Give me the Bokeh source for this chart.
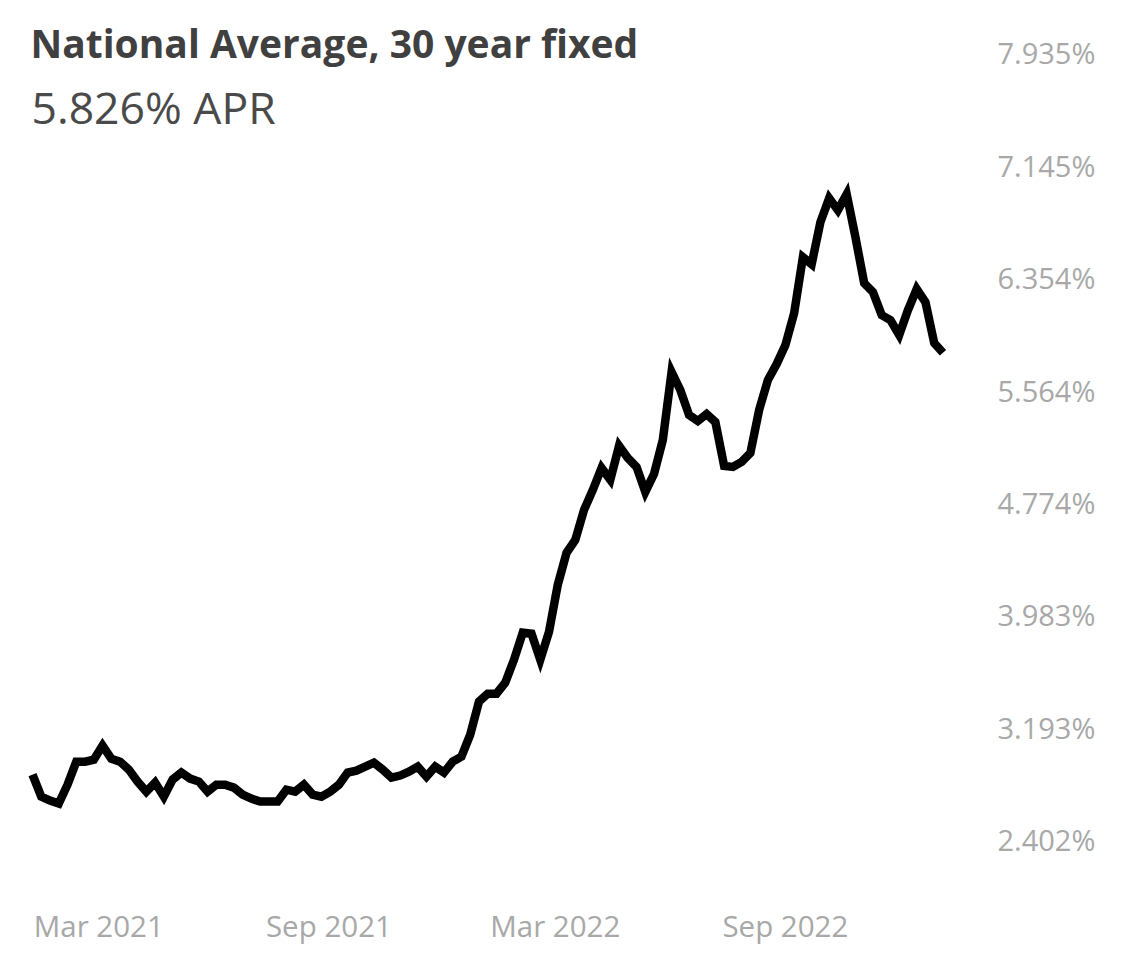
import pandas as pd
from bokeh.plotting import figure
from bokeh.models import (ColumnDataSource, Range1d, FixedTicker, MonthsTicker,
                          DatetimeTickFormatter, Label, CustomJSTickFormatter)
from bokeh.embed import file_html
from bokeh.resources import INLINE

# ---- data ----
start_date = "2021-01-07"
n_weeks = 105
rates = [2.859, 2.704, 2.676, 2.655, 2.788, 2.950, 2.950, 2.964, 3.063, 2.971,
         2.950, 2.894, 2.810, 2.739, 2.803, 2.704, 2.824, 2.873, 2.831, 2.810,
         2.739, 2.788, 2.788, 2.767, 2.718, 2.690, 2.669, 2.669, 2.669, 2.753,
         2.739, 2.788, 2.718, 2.704, 2.739, 2.788, 2.873, 2.887, 2.915, 2.943,
         2.894, 2.838, 2.852, 2.880, 2.915, 2.845, 2.915, 2.873, 2.950, 2.985,
         3.140, 3.372, 3.428, 3.428, 3.505, 3.667, 3.857, 3.850, 3.667, 3.864,
         4.194, 4.419, 4.510, 4.721, 4.861, 5.016, 4.932, 5.171, 5.086, 5.023,
         4.847, 4.974, 5.213, 5.691, 5.564, 5.388, 5.346, 5.395, 5.339, 5.030,
         5.023, 5.058, 5.121, 5.424, 5.634, 5.747, 5.880, 6.105, 6.499, 6.449,
         6.745, 6.913, 6.829, 6.941, 6.639, 6.316, 6.253, 6.091, 6.056, 5.951,
         6.126, 6.274, 6.182, 5.894, 5.826]
y_ticks = [2.402, 3.193, 3.983, 4.774, 5.564, 6.354, 7.145, 7.935]
x_tick_months = [2, 8]  # Mar, Sep (0-based)
title_text = "National Average, 30 year fixed"
subtitle_text = "5.826% APR"

dates = pd.date_range(start_date, periods=n_weeks, freq="7D")
src = ColumnDataSource(dict(date=dates, rate=rates))

d0 = dates[0]
x_start = d0 - pd.Timedelta(days=4.8)
x_end = d0 + pd.Timedelta(days=762)

W, H = 1113, 948
p = figure(width=W, height=H, output_backend="svg", toolbar_location=None,
           x_axis_type="datetime", y_axis_location="right",
           x_range=Range1d(x_start, x_end), y_range=Range1d(2.1210, 8.2475),
           min_border_left=26, min_border_right=128, min_border_top=8,
           min_border_bottom=68)
p.outline_line_color = None
p.xgrid.grid_line_color = None
p.ygrid.grid_line_color = None
p.background_fill_color = "white"
p.border_fill_color = "white"

p.line("date", "rate", source=src, line_color="black", line_width=8.5,
       line_join="miter", line_cap="butt")

font = "Open Sans"
tick_color = "#a8a8a8"

ya = p.yaxis[0]
ya.ticker = FixedTicker(ticks=y_ticks)
ya.formatter = CustomJSTickFormatter(code="return tick.toFixed(3) + '%';")
ya.axis_line_color = None
ya.major_tick_line_color = None
ya.minor_tick_line_color = None
ya.major_tick_out = 0
ya.major_tick_in = 0
ya.major_label_standoff = 12
ya.major_label_text_font = font
ya.major_label_text_font_size = "29px"
ya.major_label_text_color = tick_color

xa = p.xaxis[0]
xa.ticker = MonthsTicker(months=x_tick_months)
xa.formatter = DatetimeTickFormatter(months="%b %Y", days="%b %Y")
xa.axis_line_color = None
xa.major_tick_line_color = None
xa.minor_tick_line_color = None
xa.major_tick_out = 0
xa.major_tick_in = 0
xa.major_label_standoff = 25
xa.major_label_text_font = font
xa.major_label_text_font_size = "29.5px"
xa.major_label_text_color = tick_color

p.add_layout(Label(x=4, y=837, x_units="screen", y_units="screen",
                   text=title_text, text_font=font, text_font_style="bold",
                   text_font_size="39px", text_color="#404040",
                   text_baseline="alphabetic"))
p.add_layout(Label(x=5, y=773, x_units="screen", y_units="screen",
                   text=subtitle_text, text_font=font,
                   text_font_size="44.5px", text_color="#4a4a4a",
                   text_baseline="alphabetic"))

open("out.html", "w").write(file_html(p, INLINE))
